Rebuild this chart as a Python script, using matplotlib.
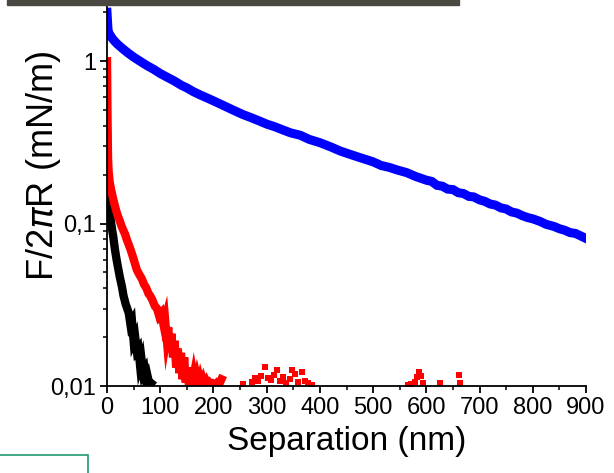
import matplotlib.pyplot as plt
from matplotlib.patches import Rectangle
from matplotlib.ticker import FixedLocator, LogLocator, NullFormatter

# values (separation in nm, F/2piR in mN/m)
blue_x = [0, 1, 2, 4, 7, 10, 15, 20, 30, 40, 50, 62, 75, 88, 100, 112, 125, 140,
          150, 162, 175, 190, 200, 218, 237, 255, 270, 285, 300, 315, 330, 345,
          363, 380, 400, 420, 438, 455, 475, 490, 500, 515, 530, 545, 563, 580,
          590, 600, 610, 620, 630, 640, 650, 660, 670, 680, 689, 700, 710, 720,
          730, 740, 750, 760, 770, 780, 790, 800, 814, 825, 840, 850, 860, 870,
          880, 890, 900]
blue_y = [2.0, 1.75, 1.55, 1.48, 1.43, 1.38, 1.32, 1.27, 1.19, 1.12, 1.06, 1.0,
          0.94, 0.89, 0.84, 0.80, 0.76, 0.71, 0.685, 0.65, 0.62, 0.59, 0.57,
          0.535, 0.50, 0.47, 0.45, 0.43, 0.41, 0.395, 0.378, 0.362, 0.35, 0.33,
          0.315, 0.297, 0.28, 0.268, 0.255, 0.246, 0.24, 0.228, 0.222, 0.214,
          0.206, 0.195, 0.19, 0.185, 0.182, 0.172, 0.17, 0.163, 0.162, 0.155,
          0.153, 0.147, 0.146, 0.14, 0.137, 0.132, 0.13, 0.125, 0.123, 0.118,
          0.116, 0.112, 0.109, 0.107, 0.103, 0.099, 0.096, 0.093, 0.091, 0.088,
          0.087, 0.084, 0.081]

red_x = [0, 0.3, 0.6, 1, 1.5, 2, 3, 5, 8, 12, 15, 18, 21, 24, 27, 30, 34, 37, 41,
         45, 49, 53, 56, 60, 65, 70, 74, 78, 81, 85, 90, 94, 98, 102, 106, 109,
         112, 115, 118, 121, 124, 127, 130, 133, 136, 139, 142, 145, 148, 151,
         154, 157, 160, 163, 166, 169, 172, 175, 178, 181, 184, 187, 190, 193,
         196, 199, 202, 206, 210, 215]
red_y = [1.0, 0.8, 0.6, 0.45, 0.32, 0.25, 0.21, 0.18, 0.16, 0.14, 0.128, 0.118,
         0.11, 0.104, 0.097, 0.092, 0.086, 0.08, 0.074, 0.068, 0.062, 0.056,
         0.052, 0.049, 0.046, 0.042, 0.04, 0.037, 0.036, 0.034, 0.031, 0.03,
         0.027, 0.028, 0.024, 0.026, 0.02, 0.023, 0.017, 0.021, 0.015, 0.019,
         0.013, 0.017, 0.012, 0.016, 0.011, 0.015, 0.0105, 0.013, 0.0102,
         0.0125, 0.0101, 0.0115, 0.0101, 0.0112, 0.0101, 0.011, 0.0101, 0.0108,
         0.0101, 0.0106, 0.0101, 0.0104, 0.0101, 0.0103, 0.0101, 0.0104, 0.0101,
         0.011]

# scattered red points lying on the noise floor
red_sparse_x = [256, 272, 278, 284, 290, 297, 303, 309, 314, 319, 325, 331, 337,
                343, 348, 353, 359, 366, 372, 378, 385, 565, 572, 578, 583, 586,
                590, 594, 626, 661, 663]
red_sparse_y = [0.0103, 0.0106, 0.0112, 0.0108, 0.0115, 0.013, 0.0112, 0.0109,
                0.0117, 0.0125, 0.0108, 0.0113, 0.0104, 0.0111, 0.0125, 0.0118,
                0.0106, 0.0122, 0.0107, 0.0104, 0.0101, 0.0101, 0.0103, 0.0106,
                0.0113, 0.0122, 0.0115, 0.0105, 0.0104, 0.0117, 0.0105]

black_x = [0, 0.5, 1, 2, 3, 5, 7, 10, 12, 15, 18, 21, 24, 28, 31, 35, 38, 41, 44,
           47, 50, 53, 56, 59, 62, 65, 68, 71, 74, 77, 80, 83]
black_y = [0.35, 0.28, 0.22, 0.17, 0.14, 0.12, 0.105, 0.09, 0.082, 0.069, 0.06,
           0.053, 0.047, 0.041, 0.036, 0.032, 0.03, 0.028, 0.024, 0.025, 0.019,
           0.02, 0.0165, 0.017, 0.0135, 0.0145, 0.012, 0.0125, 0.0105, 0.0112,
           0.0101, 0.0104]

x_ticks = [0, 100, 200, 300, 400, 500, 600, 700, 800, 900]
y_ticks = [0.01, 0.1, 1]
y_ticklabels = ['0,01', '0,1', '1']

plt.rcParams['font.family'] = ['Liberation Sans', 'DejaVu Sans']

fig = plt.figure(figsize=(6.14, 4.73), dpi=100)
ax = fig.add_axes([107 / 614, 1 - 386 / 473, 479 / 614, 382 / 473])

ax.plot(black_x, black_y, color='black', lw=6, solid_joinstyle='miter')
ax.plot(red_x, red_y, color='#ff0000', lw=6, solid_joinstyle='miter')
ax.plot(red_sparse_x, red_sparse_y, 's', color='#ff0000', ms=4, mew=0)
ax.plot(blue_x, blue_y, color='#0000ff', lw=6.5, solid_joinstyle='miter')

ax.set_yscale('log')
ax.set_xlim(0, 900)
ax.set_ylim(0.01, 2.25)

ax.xaxis.set_major_locator(FixedLocator(x_ticks))
ax.xaxis.set_minor_locator(FixedLocator([t + 50 for t in x_ticks[:-1]]))
ax.set_yticks(y_ticks)
ax.set_yticklabels(y_ticklabels)
ax.yaxis.set_minor_locator(LogLocator(base=10, subs=range(2, 10)))
ax.yaxis.set_minor_formatter(NullFormatter())

for side in ['top', 'right']:
    ax.spines[side].set_visible(False)
for side in ['left', 'bottom']:
    ax.spines[side].set_linewidth(1.3)

ax.tick_params(which='major', direction='out', length=5, width=1.3,
               labelsize=17, pad=3)
ax.tick_params(which='minor', direction='out', length=3, width=1.1)

ax.set_xlabel('Separation (nm)', fontsize=24, labelpad=5)
ax.set_ylabel(r'F/2$\pi$R (mN/m)', fontsize=26)
ax.yaxis.set_label_coords(-0.092, 0.575)

# dark strip at the top and green frame at the bottom left of the picture
fig.patches.append(Rectangle((7 / 614, 1 - 5 / 473), 452 / 614, 5 / 473,
                             transform=fig.transFigure, color='#4b4842',
                             zorder=5))
fig.patches.append(Rectangle((-0.01, -0.05), 88 / 614 + 0.01, 18 / 473 + 0.05,
                             transform=fig.transFigure, fill=False,
                             edgecolor='#1e9b6e', lw=1.2, zorder=5))

fig.savefig('out.png', dpi=100)
